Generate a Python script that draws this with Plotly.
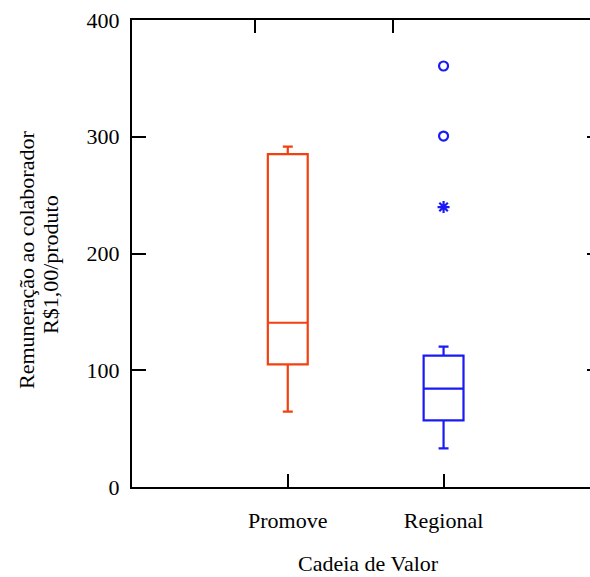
import plotly.graph_objects as go

# Data
categories = ["Promove", "Regional"]
cat_pos = [0, 1]
q1 = [105.0, 57.1]
median = [140.7, 84.2]
q3 = [285.2, 112.5]
lower_fence = [64.5, 33.1]
upper_fence = [291.5, 120.2]
colors = ["#F2400F", "#1A1AF5"]

# Regional outliers
far_outliers = [360.6, 300.6]   # circles
outside_values = [239.8]        # asterisk

y_ticks = [0, 100, 200, 300, 400]
top_ticks = [-0.212, 0.673]

FONT = "Liberation Serif"
FS = 22

fig = go.Figure()
for i in range(len(categories)):
    fig.add_trace(go.Box(
        x=[cat_pos[i]], q1=[q1[i]], median=[median[i]], q3=[q3[i]],
        lowerfence=[lower_fence[i]], upperfence=[upper_fence[i]],
        width=0.256, whiskerwidth=0.25, boxpoints=False,
        fillcolor="rgba(0,0,0,0)",
        line=dict(color=colors[i], width=2.2),
        showlegend=False, hoverinfo="skip",
    ))

fig.add_trace(go.Scatter(
    x=[cat_pos[1]] * len(far_outliers), y=far_outliers, mode="markers",
    marker=dict(symbol="circle-open", size=9, color=colors[1], line=dict(width=2.2, color=colors[1])),
    showlegend=False, hoverinfo="skip",
))
fig.add_trace(go.Scatter(
    x=[cat_pos[1]] * len(outside_values), y=outside_values, mode="markers",
    marker=dict(symbol="asterisk-open", size=10, color=colors[1], line=dict(width=2.2, color=colors[1])),
    showlegend=False, hoverinfo="skip",
))
# invisible trace to activate secondary axes
fig.add_trace(go.Scatter(x=[0], y=[0], xaxis="x2", yaxis="y2", mode="markers",
                         marker=dict(opacity=0), showlegend=False, hoverinfo="skip"))

fig.update_layout(
    width=590, height=577,
    margin=dict(l=132, r=0, t=20, b=90),
    paper_bgcolor="white", plot_bgcolor="white",
    font=dict(family=FONT, size=FS, color="black"),
    xaxis=dict(
        range=[-1, 1.94], tickvals=cat_pos, ticktext=categories,
        ticks="inside", ticklen=13, tickwidth=2, tickcolor="black",
        showline=True, linewidth=2, linecolor="black",
        showgrid=False, zeroline=False, ticklabelstandoff=13,
        tickfont=dict(family=FONT, size=FS),
    ),
    xaxis2=dict(
        range=[-1, 1.94], overlaying="x", side="top", tickvals=top_ticks,
        ticks="inside", ticklen=13, tickwidth=2, tickcolor="black",
        showline=True, linewidth=2, linecolor="black",
        showgrid=False, zeroline=False, showticklabels=False,
    ),
    yaxis=dict(
        range=[0, 400], tickvals=y_ticks,
        ticks="inside", ticklen=14, tickwidth=2, tickcolor="black",
        showline=True, linewidth=2, linecolor="black",
        showgrid=False, zeroline=False, ticklabelstandoff=6,
        tickfont=dict(family=FONT, size=FS),
    ),
    yaxis2=dict(
        range=[0, 400], overlaying="y", side="right", tickvals=y_ticks[1:4],
        ticks="inside", ticklen=3, tickwidth=2, tickcolor="black",
        showline=False, showgrid=False, zeroline=False, showticklabels=False,
    ),
    annotations=[
        dict(text="Cadeia de Valor", xref="paper", yref="paper",
             x=(368 - 132) / 458, y=(487 - 577) / 467,
             xanchor="center", yanchor="bottom", showarrow=False,
             borderpad=0, font=dict(family=FONT, size=FS)),
        dict(text="Remuneração ao colaborador", xref="paper", yref="paper",
             x=(26 - 132) / 458, y=(487 - 260) / 467, textangle=-90,
             xanchor="center", yanchor="middle", showarrow=False,
             font=dict(family=FONT, size=FS)),
        dict(text="R$1,00/produto", xref="paper", yref="paper",
             x=(50 - 132) / 458, y=(487 - 265) / 467, textangle=-90,
             xanchor="center", yanchor="middle", showarrow=False,
             font=dict(family=FONT, size=FS)),
    ],
)

fig.write_html("out.html")
